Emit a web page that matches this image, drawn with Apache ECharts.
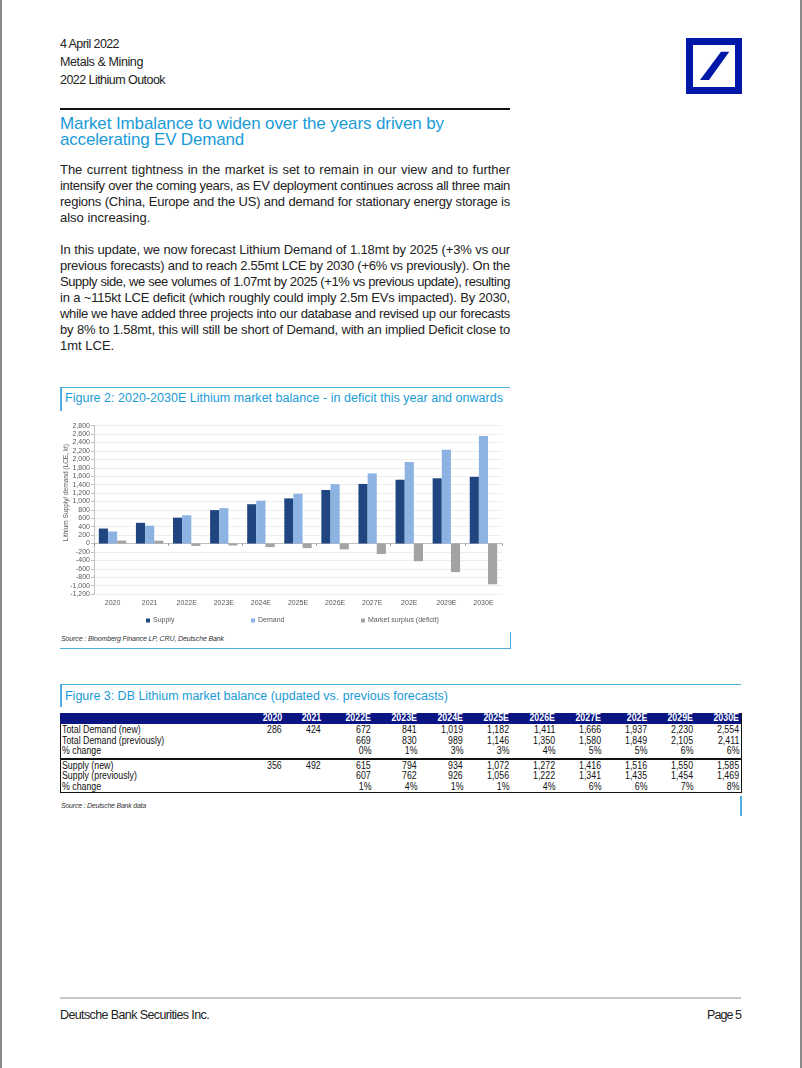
<!DOCTYPE html>
<html>
<head>
<meta charset="utf-8">
<script src="https://cdn.jsdelivr.net/npm/echarts@6/dist/echarts.min.js"></script>
<style>
  html, body { margin:0; padding:0; background:#fff; }
  body { width:802px; height:1068px; position:relative; overflow:hidden; font-family:"Liberation Sans", Arial, sans-serif; color:#222; }
  .abs { position:absolute; }
  .fit { white-space:nowrap; display:inline-block; }
  .hdr { font-size:12.5px; line-height:17.5px; color:#222; }
  .title { font-size:17px; line-height:16px; color:#1A9BD7; }
  .body { left:60px; width:450px; font-size:13px; line-height:16px; color:#222; }
  .jl { text-align:justify; text-align-last:justify; white-space:normal; }
  .jl.last { text-align-last:left; }
  .figt { font-size:12.5px; color:#1A9BD7; line-height:14px; }
  .src { font-size:7px; font-style:italic; color:#333; line-height:9px; }
  .tbl { font-size:10px; color:#111; }
  .cell { position:absolute; white-space:nowrap; line-height:10.5px; transform:scaleX(0.88); transform-origin:right center; }
  .cell.lbl { transform-origin:left center; }
  .foot { font-size:12.5px; color:#222; line-height:14px; }
  #chart { position:absolute; left:0; top:0; width:802px; height:1068px; pointer-events:none; }
</style>
</head>
<body>
<script>
// ---- data ----
const categories = ['2020','2021','2022E','2023E','2024E','2025E','2026E','2027E','202E','2029E','2030E'];
const supply  = [356, 492, 615, 794, 934, 1072, 1272, 1416, 1516, 1550, 1585];
const demand  = [286, 424, 672, 841, 1019, 1182, 1411, 1666, 1937, 2230, 2554];
const surplus = [70, 68, -57, -47, -85, -110, -139, -250, -421, -680, -969];
const seriesNames = ['Supply', 'Demand', 'Market surplus (deficit)'];

const demandNew  = [286, 424, 672, 841, 1019, 1182, 1411, 1666, 1937, 2230, 2554];
const demandPrev = [null, null, 669, 830, 989, 1146, 1350, 1580, 1849, 2105, 2411];
const demandChg  = [null, null, 0, 1, 3, 3, 4, 5, 5, 6, 6];
const supplyNew  = [356, 492, 615, 794, 934, 1072, 1272, 1416, 1516, 1550, 1585];
const supplyPrev = [null, null, 607, 762, 926, 1056, 1222, 1341, 1435, 1454, 1469];
const supplyChg  = [null, null, 1, 4, 1, 1, 4, 6, 6, 7, 8];
const rowLabels  = ['Total Demand (new)', 'Total Demand (previously)', '% change',
                    'Supply (new)', 'Supply (previously)', '% change'];
</script>

<!-- page border -->
<div class="abs" style="left:0;top:0;width:2px;height:1068px;background:#8a8a8a"></div>
<div class="abs" style="left:800px;top:0;width:2px;height:1068px;background:#8a8a8a"></div>

<!-- header -->
<div class="abs hdr" style="left:60px;top:36px"><span class="fit" data-w="59">4 April 2022</span></div>
<div class="abs hdr" style="left:60px;top:54px"><span class="fit" data-w="83">Metals &amp; Mining</span></div>
<div class="abs hdr" style="left:60px;top:71.5px"><span class="fit" data-w="105">2022 Lithium Outook</span></div>

<!-- logo -->
<svg class="abs" style="left:686px;top:38px" width="56" height="56" viewBox="0 0 56 56">
  <rect x="3.5" y="3.5" width="49" height="49" fill="none" stroke="#0018A8" stroke-width="7"/>
  <polygon points="35,13.7 43.3,13.7 23,42 14,42" fill="#0018A8"/>
</svg>

<!-- rule -->
<div class="abs" style="left:60px;top:107.5px;width:450px;height:2px;background:#111"></div>

<!-- title -->
<div class="abs title" style="left:60px;top:116px"><span class="fit" data-w="384">Market Imbalance to widen over the years driven by</span></div>
<div class="abs title" style="left:60px;top:132px"><span class="fit" data-w="184">accelerating EV Demand</span></div>

<!-- body text -->
<div class="abs body" style="top:162px">
  <div class="jl"><span>The current tightness in the market is set to remain in our view and to further</span></div>
  <div class="jl"><span>intensify over the coming years, as EV deployment continues across all three main</span></div>
  <div class="jl"><span>regions (China, Europe and the US) and demand for stationary energy storage is</span></div>
  <div class="jl last"><span>also increasing.</span></div>
</div>
<div class="abs body" style="top:242px">
  <div class="jl"><span>In this update, we now forecast Lithium Demand of 1.18mt by 2025 (+3% vs our</span></div>
  <div class="jl"><span>previous forecasts) and to reach 2.55mt LCE by 2030 (+6% vs previously). On the</span></div>
  <div class="jl"><span>Supply side, we see volumes of 1.07mt by 2025 (+1% vs previous update), resulting</span></div>
  <div class="jl"><span>in a ~115kt LCE deficit (which roughly could imply 2.5m EVs impacted). By 2030,</span></div>
  <div class="jl"><span>while we have added three projects into our database and revised up our forecasts</span></div>
  <div class="jl"><span>by 8% to 1.58mt, this will still be short of Demand, with an implied Deficit close to</span></div>
  <div class="jl last"><span>1mt LCE.</span></div>
</div>

<!-- figure 2 frame -->
<div class="abs" style="left:60px;top:386.5px;width:450px;height:1.5px;background:#4FAEDB"></div>
<div class="abs" style="left:60px;top:386.5px;width:1.5px;height:24px;background:#4FAEDB"></div>
<div class="abs figt" style="left:65px;top:391px"><span class="fit" data-w="438">Figure 2: 2020-2030E Lithium market balance - in deficit this year and onwards</span></div>
<div class="abs src" style="left:61px;top:634px"><span class="fit" data-w="163">Source : Bloomberg Finance LP, CRU, Deutsche Bank</span></div>
<div class="abs" style="left:60px;top:647.5px;width:451px;height:1.5px;background:#4FAEDB"></div>
<div class="abs" style="left:509.5px;top:632px;width:1.5px;height:17px;background:#4FAEDB"></div>

<!-- figure 3 frame -->
<div class="abs" style="left:60px;top:683.5px;width:681px;height:1.5px;background:#4FAEDB"></div>
<div class="abs" style="left:60px;top:683.5px;width:1.5px;height:23px;background:#4FAEDB"></div>
<div class="abs figt" style="left:65px;top:688.5px"><span class="fit" data-w="383">Figure 3: DB Lithium market balance (updated vs. previous forecasts)</span></div>
<div id="table" class="abs tbl" style="left:0;top:0;width:802px;height:1068px"></div>
<div class="abs src" style="left:61px;top:800.5px"><span class="fit" data-w="85">Source : Deutsche Bank data</span></div>
<div class="abs" style="left:740px;top:796px;width:1.5px;height:20px;background:#4FAEDB"></div>

<!-- footer -->
<div class="abs" style="left:60px;top:997px;width:681px;height:2px;background:#c8c8c8"></div>
<div class="abs foot" style="left:60px;top:1008px"><span class="fit" data-w="149">Deutsche Bank Securities Inc.</span></div>
<div class="abs foot" style="left:707px;top:1008px"><span class="fit" data-w="34">Page 5</span></div>

<div id="chart"></div>

<script>
// ---- build table from arrays ----
(function(){
  const t = document.getElementById('table');
  const rightEdges = [282, 321, 371, 417, 463, 509, 555, 601, 647, 693, 739];
  const fmt = v => v == null ? '' : v.toLocaleString('en-US');
  const pct = v => v == null ? '' : v + '%';
  const rows = [
    [rowLabels[0], demandNew.map(fmt)],
    [rowLabels[1], demandPrev.map(fmt)],
    [rowLabels[2], demandChg.map(pct)],
    [rowLabels[3], supplyNew.map(fmt)],
    [rowLabels[4], supplyPrev.map(fmt)],
    [rowLabels[5], supplyChg.map(pct)]
  ];
  const rowTops = [725.3, 735.6, 745.9, 760.8, 771.2, 781.6];
  let html = '';
  html += '<div class="abs" style="left:60px;top:713px;width:681px;height:10.5px;background:#0A1583"></div>';
  categories.forEach((c,i)=>{
    html += '<div class="cell" style="top:713px;right:'+(802-rightEdges[i])+'px;color:#fff;font-weight:bold">'+c+'</div>';
  });
  rows.forEach((r,ri)=>{
    html += '<div class="cell lbl" style="top:'+rowTops[ri]+'px;left:61.5px">'+r[0]+'</div>';
    r[1].forEach((v,i)=>{
      html += '<div class="cell" style="top:'+rowTops[ri]+'px;right:'+(802-rightEdges[i])+'px">'+v+'</div>';
    });
  });
  html += '<div class="abs" style="left:60px;top:723.5px;width:1px;height:69px;background:#111"></div>';
  html += '<div class="abs" style="left:740.5px;top:713px;width:1px;height:79.5px;background:#111"></div>';
  html += '<div class="abs" style="left:60px;top:757.5px;width:681.5px;height:2px;background:#111"></div>';
  html += '<div class="abs" style="left:60px;top:792px;width:681.5px;height:1px;background:#111"></div>';
  t.innerHTML = html;
})();

// ---- fit text widths ----
document.querySelectorAll('.fit').forEach(el=>{
  const target = parseFloat(el.dataset.w);
  const w = el.getBoundingClientRect().width;
  const n = el.textContent.length;
  el.style.letterSpacing = ((target - w) / n).toFixed(3) + 'px';
});
document.querySelectorAll('.jl').forEach(div=>{
  const sp = div.firstElementChild;
  sp.style.whiteSpace = 'nowrap';
  const w = sp.getBoundingClientRect().width;
  const n = sp.textContent.length;
  if (w > 449) sp.style.letterSpacing = ((449 - w) / n - 0.01).toFixed(3) + 'px';
  sp.style.whiteSpace = 'normal';
});

// ---- chart ----
const chart = echarts.init(document.getElementById('chart'));
const FF = '"Liberation Sans", Arial, sans-serif';
const axisGrey = '#BFBFBF';
const legendBase = {
  icon:'rect', itemWidth:4, itemHeight:4, itemGap:0, top:612,
  textStyle:{fontSize:7, color:'#595959', fontFamily:FF, padding:[0,0,0,-2]}
};
chart.setOption({
  animation:false,
  textStyle:{fontFamily:FF},
  grid:{left:94, top:425.7, width:408, height:168.3},
  legend:[
    Object.assign({}, legendBase, {data:[seriesNames[0]], left:141}),
    Object.assign({}, legendBase, {data:[seriesNames[1]], left:246}),
    Object.assign({}, legendBase, {data:[seriesNames[2]], left:356})
  ],
  graphic:[{
    type:'text', left:63, top:444, rotation:Math.PI/2,
    style:{text:'Lithium Supply/ demand (LCE, kt)', fontSize:6.5, fill:'#595959', fontFamily:FF}
  }],
  xAxis:[
    {type:'category', data:categories, gridIndex:0,
     axisLine:{show:false, onZero:false}, axisTick:{show:false},
     axisLabel:{fontSize:7, color:'#595959', margin:6}},
    {type:'category', data:categories, gridIndex:0, position:'bottom',
     axisLine:{show:true, onZero:true, lineStyle:{color:axisGrey}},
     axisTick:{show:true, length:2, lineStyle:{color:'#8c8c8c'}},
     axisLabel:{show:false}, splitLine:{show:false}}
  ],
  yAxis:{type:'value', min:-1200, max:2800, interval:200,
    axisLine:{show:true, lineStyle:{color:axisGrey}},
    axisTick:{show:true, length:3, lineStyle:{color:axisGrey}},
    axisLabel:{fontSize:7, color:'#595959', margin:4, formatter:v=>v.toLocaleString('en-US')},
    splitLine:{lineStyle:{color:'#EEEEEE', width:1}}},
  series:[
    {name:seriesNames[0], type:'bar', data:supply, xAxisIndex:0, itemStyle:{color:'#1F4680'}, barGap:'0%', barCategoryGap:'26%'},
    {name:seriesNames[1], type:'bar', data:demand, xAxisIndex:0, itemStyle:{color:'#8DB3E2'}, barGap:'0%', barCategoryGap:'26%'},
    {name:seriesNames[2], type:'bar', data:surplus, xAxisIndex:0, itemStyle:{color:'#A3A3A3'}, barGap:'0%', barCategoryGap:'26%'}
  ]
});
</script>
</body>
</html>
